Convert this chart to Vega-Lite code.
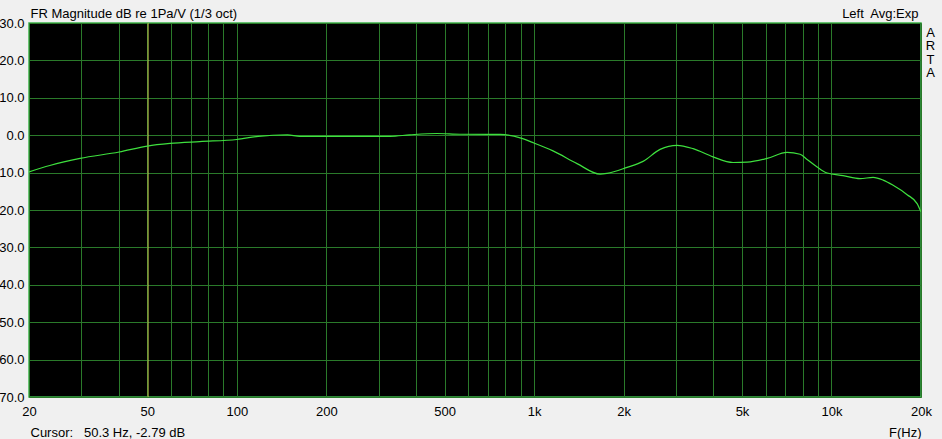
{
  "$schema": "https://vega.github.io/schema/vega-lite/v6.json",
  "autosize": {"type": "none"},
  "padding": {"left": 29, "top": 23, "right": 21, "bottom": 42},
  "width": 892,
  "height": 374,
  "background": "#f0f0f0",
  "config": {
    "view": {"fill": "#000000", "stroke": "#3cb44b", "strokeWidth": 1.5},
    "axis": {
      "labelFont": "Liberation Sans",
      "labelFontSize": 13,
      "labelColor": "#000000",
      "titleFont": "Liberation Sans",
      "titleFontSize": 13,
      "titleFontWeight": "normal",
      "titleColor": "#000000",
      "gridColor": "#2a7a2a",
      "gridOpacity": 1,
      "gridWidth": 1,
      "ticks": false,
      "domain": false
    }
  },
  "datasets": {
    "fr": [
      {"f": 20, "db": -9.8},
      {"f": 23.5, "db": -8.1},
      {"f": 29.7, "db": -6.2},
      {"f": 40.2, "db": -4.5},
      {"f": 50, "db": -2.9},
      {"f": 59.6, "db": -2.2},
      {"f": 75, "db": -1.7},
      {"f": 100, "db": -1.15},
      {"f": 118, "db": -0.3},
      {"f": 148, "db": 0.1},
      {"f": 163, "db": -0.3},
      {"f": 328, "db": -0.3},
      {"f": 382, "db": 0.1},
      {"f": 471, "db": 0.45},
      {"f": 563, "db": 0.25},
      {"f": 768, "db": 0.2},
      {"f": 897, "db": -0.7},
      {"f": 992, "db": -2.0},
      {"f": 1157, "db": -4.2},
      {"f": 1394, "db": -7.6},
      {"f": 1666, "db": -10.4},
      {"f": 1759, "db": -10.2},
      {"f": 2053, "db": -8.6},
      {"f": 2324, "db": -7.0},
      {"f": 2652, "db": -3.8},
      {"f": 3025, "db": -2.7},
      {"f": 3424, "db": -3.6},
      {"f": 3997, "db": -5.8},
      {"f": 4666, "db": -7.3},
      {"f": 5204, "db": -7.2},
      {"f": 6073, "db": -6.2},
      {"f": 7089, "db": -4.6},
      {"f": 7840, "db": -5.1},
      {"f": 8278, "db": -6.5},
      {"f": 8946, "db": -8.5},
      {"f": 9666, "db": -10.1},
      {"f": 10940, "db": -10.8},
      {"f": 12484, "db": -11.6},
      {"f": 13803, "db": -11.3},
      {"f": 14912, "db": -12.0},
      {"f": 16118, "db": -13.4},
      {"f": 17964, "db": -15.9},
      {"f": 19406, "db": -18.3},
      {"f": 20000, "db": -20.5}
    ],
    "cursor": [{"f": 50.3, "db": -2.79}]
  },
  "resolve": {"axis": {"x": "independent", "y": "independent"}},
  "layer": [
    {
      "data": {"name": "cursor"},
      "mark": {"type": "rule", "color": "#c8c850", "strokeWidth": 1},
      "encoding": {
        "x": {
          "field": "f",
          "type": "quantitative",
          "scale": {"type": "log", "domain": [20, 20000], "nice": false},
          "axis": {
            "orient": "top",
            "grid": false,
            "labels": false,
            "title": "Left\u00a0 Avg:Exp",
            "titleAlign": "right",
            "titleAnchor": "end",
            "titleBaseline": "alphabetic",
            "titleX": 889,
            "titleY": -5.5
          }
        }
      }
    },
    {
      "data": {"name": "fr"},
      "mark": {"type": "line", "color": "#3ee03e", "strokeWidth": 1.2, "interpolate": "monotone", "clip": true},
      "encoding": {
        "x": {
          "field": "f",
          "type": "quantitative",
          "scale": {"type": "log", "domain": [20, 20000], "nice": false},
          "axis": {
            "values": [20, 30, 40, 50, 60, 70, 80, 90, 100, 200, 300, 400, 500, 600, 700, 800, 900, 1000, 2000, 3000, 4000, 5000, 6000, 7000, 8000, 9000, 10000, 20000],
            "labelExpr": "indexof([20,50,100,200,500,1000,2000,5000,10000,20000], datum.value) >= 0 ? (datum.value >= 1000 ? (datum.value/1000) + 'k' : '' + datum.value) : ''",
            "labelOverlap": false,
            "labelFlush": false,
            "labelPadding": 8,
            "grid": true,
            "title": "F(Hz)",
            "titleAlign": "right",
            "titleAnchor": "end",
            "titleBaseline": "alphabetic",
            "titleX": 892,
            "titleY": 39
          }
        },
        "y": {
          "field": "db",
          "type": "quantitative",
          "scale": {"domain": [-70, 30], "nice": false, "zero": false},
          "axis": {
            "values": [-70, -60, -50, -40, -30, -20, -10, 0, 10, 20, 30],
            "labelExpr": "format(abs(datum.value), '.1f')",
            "labelPadding": 5,
            "labelFlush": false,
            "labelOverlap": false,
            "grid": true,
            "title": "Cursor:\u00a0\u00a0 50.3 Hz, -2.79 dB",
            "titleAngle": 0,
            "titleAlign": "left",
            "titleBaseline": "alphabetic",
            "titleX": 1,
            "titleY": 413.5
          }
        }
      }
    },
    {
      "data": {"name": "cursor"},
      "mark": {"type": "point", "opacity": 0},
      "encoding": {
        "x": {
          "field": "f",
          "type": "quantitative",
          "scale": {"type": "log", "domain": [20, 20000], "nice": false},
          "axis": {
            "orient": "top",
            "grid": false,
            "labels": false,
            "title": "FR Magnitude dB re 1Pa/V (1/3 oct)",
            "titleAlign": "left",
            "titleAnchor": "start",
            "titleBaseline": "alphabetic",
            "titleX": 1,
            "titleY": -5.5
          }
        },
        "y": {
          "field": "db",
          "type": "quantitative",
          "scale": {"domain": [-70, 30], "nice": false, "zero": false},
          "axis": {
            "orient": "right",
            "grid": false,
            "labels": false,
            "title": ["A", "R", "T", "A"],
            "titleAngle": 0,
            "titleAlign": "center",
            "titleBaseline": "top",
            "titleLineHeight": 13.5,
            "titleX": 9,
            "titleY": 3
          }
        }
      }
    }
  ]
}
